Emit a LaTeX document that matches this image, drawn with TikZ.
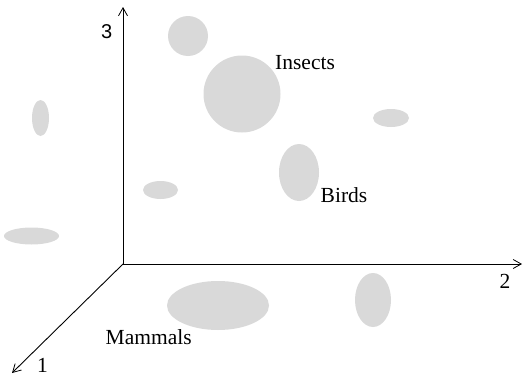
\documentclass[tikz,border=0pt]{standalone}
\usepackage{fontspec}
\setmainfont{Liberation Serif}
\newfontfamily\axsans{Liberation Sans}
\usetikzlibrary{arrows.meta}
\definecolor{blob}{HTML}{D9D9D9}
\tikzset{
  blobfill/.style={fill=blob},
  axis/.style={line width=0.9pt, -{Straight Barb[length=8pt,width=9pt,line width=0.8pt]}},
  lbl/.style={inner sep=0pt, anchor=base west, font=\fontsize{21.5}{24}\selectfont},
}
\begin{document}
\begin{tikzpicture}[x=1pt,y=-1pt]
\useasboundingbox (0,0) rectangle (523,375);
% blobs
\fill[blobfill] (188,36) circle (20);
\fill[blobfill] (242,94) circle (38.5);
\fill[blobfill] (40.5,118) ellipse [x radius=8.5, y radius=18];
\fill[blobfill] (391,118) ellipse [x radius=18, y radius=9];
\fill[blobfill] (299,172.5) ellipse [x radius=20, y radius=28.5];
\fill[blobfill] (160.5,190) ellipse [x radius=17.5, y radius=9];
\fill[blobfill] (31.5,236) ellipse [x radius=27.5, y radius=8.5];
\fill[blobfill] (218,305.5) ellipse [x radius=51, y radius=24.5];
\fill[blobfill] (373,300) ellipse [x radius=18, y radius=27];
% axes
\coordinate (O) at (123,264);
\coordinate (A3) at (123,7);
\coordinate (A2) at (522,264);
\coordinate (A1) at (12,373);
\draw[axis] (O) -- (A3);
\draw[axis] (O) -- (A2);
\draw[axis] (O) -- (A1);
% labels
\node[lbl, font=\axsans\fontsize{20}{24}\selectfont] (l3) at (101,38.3) {3};
\node[lbl] (l2) at (499.5,288) {2};
\node[lbl] (l1) at (37,372.5) {1};
\node[lbl] (ins) at (275,69.5) {Insects};
\node[lbl] (brd) at (320.5,202) {Birds};
\node[lbl] (mam) at (105.5,344) {Mammals};
\end{tikzpicture}
\end{document}
